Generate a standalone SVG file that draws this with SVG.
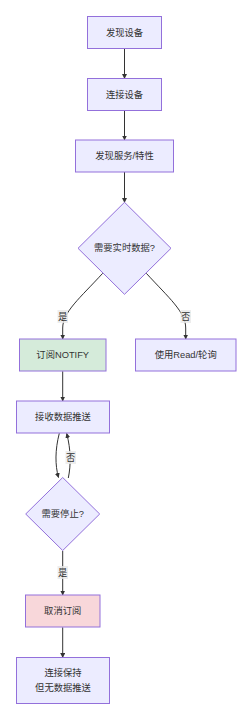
<svg xmlns="http://www.w3.org/2000/svg" width="252" height="720" viewBox="0 0 252 720">
<style>
.node rect,.node polygon{fill:#ECECFF;stroke:#9370DB;stroke-width:1}
.node.green rect{fill:#D5EBDA}
.node.pink rect{fill:#F8D7DA}
text{font-family:"Liberation Sans","Noto Sans CJK SC",sans-serif;font-size:9.3px;fill:#333;text-anchor:middle;dominant-baseline:central}
.edge{fill:none;stroke:#333;stroke-width:1;marker-end:url(#arr)}
.lbl rect{fill:#e8e8e8;opacity:0.8}
</style>
<defs>
<marker id="arr" viewBox="0 0 10 10" refX="9" refY="5" markerWidth="5" markerHeight="5" markerUnits="userSpaceOnUse" orient="auto">
<path d="M0,0 L10,5 L0,10 z" fill="#333"/>
</marker>
</defs>
<rect width="252" height="720" fill="#fff"/>
<g id="edges">
<path class="edge" d="M124.5,48.5 L124.5,78.5"/>
<path class="edge" d="M124.5,110.5 L124.5,140"/>
<path class="edge" d="M124.5,172 L124.5,202.5"/>
<path class="edge" d="M102.7,273.3 C 80,298 62.7,312 62.7,328 L62.7,339"/>
<path class="edge" d="M146.3,273.3 C 169,298 185.7,312 185.7,328 L185.7,339"/>
<path class="edge" d="M62.7,371.3 L62.7,401"/>
<path class="edge" d="M59.3,433.3 C 55,450 55,465 58.5,477.5"/>
<path class="edge" d="M68.3,478 C 71,465 71,450 66.7,433.5"/>
<path class="edge" d="M62.7,551 L62.7,595"/>
<path class="edge" d="M62.7,627.3 L62.7,657.5"/>
<g class="lbl"><rect x="57.5" y="310" width="10.5" height="13"/><text x="62.7" y="316.7">是</text></g>
<g class="lbl"><rect x="180.5" y="310" width="10.5" height="13"/><text x="185.7" y="316.7">否</text></g>
<g class="lbl"><rect x="65.5" y="451" width="10.5" height="13"/><text x="70.7" y="457.7">否</text></g>
<g class="lbl"><rect x="57.5" y="566" width="10.5" height="13"/><text x="62.7" y="572.7">是</text></g>
</g>
<g id="n1" class="node"><rect x="87.5" y="16.5" width="74" height="32"/><text x="124.5" y="32.5">发现设备</text></g>
<g id="n2" class="node"><rect x="87.5" y="78.5" width="74" height="32"/><text x="124.5" y="94.5">连接设备</text></g>
<g id="n3" class="node"><rect x="75.5" y="140" width="98" height="32"/><text x="124.5" y="156">发现服务/特性</text></g>
<g id="n4" class="node"><polygon points="124.5,202.3 171,248.3 124.5,294.3 78,248.3"/><text x="124.5" y="248.3">需要实时数据?</text></g>
<g id="n5" class="node green"><rect x="19.5" y="339" width="86.5" height="32"/><text x="62.7" y="355">订阅NOTIFY</text></g>
<g id="n6" class="node"><rect x="135.5" y="339" width="100.5" height="32"/><text x="185.7" y="355">使用Read/轮询</text></g>
<g id="n7" class="node"><rect x="16.5" y="401" width="93" height="32"/><text x="63" y="417">接收数据推送</text></g>
<g id="n8" class="node"><polygon points="62.7,477.5 99.7,514 62.7,550.5 25.7,514"/><text x="62.7" y="514">需要停止?</text></g>
<g id="n9" class="node pink"><rect x="25.5" y="595" width="74.5" height="32"/><text x="62.7" y="611">取消订阅</text></g>
<g id="n10" class="node"><rect x="16.5" y="657.5" width="93" height="46"/><text x="63" y="673.3">连接保持</text><text x="63" y="687.5">但无数据推送</text></g>
</svg>
